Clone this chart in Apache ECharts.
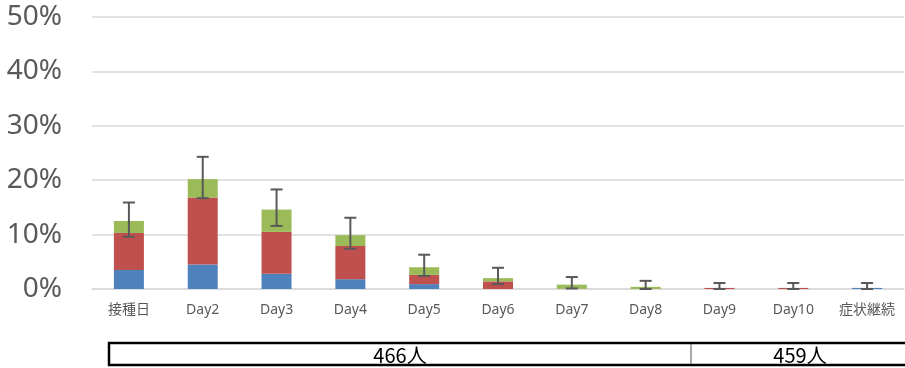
<!DOCTYPE html>
<html><head><meta charset="utf-8">
<script src="https://cdn.jsdelivr.net/npm/echarts@6/dist/echarts.min.js"></script>
<style>html,body{margin:0;padding:0;background:#fff}#c{width:905px;height:368px}</style>
</head><body><div id="c"></div>
<script>
const categories = ['接種日','Day2','Day3','Day4','Day5','Day6','Day7','Day8','Day9','Day10','症状継続'];
const blueValues  = [3.5, 4.5, 2.8, 1.8, 0.9, 0, 0, 0, 0, 0, 0.2];
const redValues   = [6.8, 12.3, 7.7, 6.1, 1.7, 1.4, 0.05, 0, 0.2, 0.2, 0];
const greenValues = [2.2, 3.4, 4.1, 2.0, 1.4, 0.6, 0.75, 0.4, 0, 0, 0];
const errLow  = [9.6, 16.7, 11.6, 7.4, 2.4, 0.9, 0.1, 0, 0, 0, 0];
const errHigh = [15.9, 24.3, 18.3, 13.1, 6.3, 3.9, 2.2, 1.5, 1.1, 1.1, 1.1];
const yTicks = [0, 10, 20, 30, 40, 50];
const groupLabels = ['466人', '459人'];

const chart = echarts.init(document.getElementById('c'), null, {renderer: 'canvas'});
const errData = categories.map((c, i) => [i, errLow[i], errHigh[i]]);
const gridColor = '#D9D9D9';
const textColor = '#595959';

chart.setOption({
  animation: false,
  grid: {left: 92, right: 1, top: 17, bottom: 79},
  xAxis: {
    type: 'category', data: categories,
    axisLine: {show: true, lineStyle: {color: gridColor, width: 1.5}},
    axisTick: {show: false},
    axisLabel: {color: textColor, fontSize: 14, fontFamily: '"Noto Sans", "Noto Sans CJK JP", sans-serif', margin: 14, interval: 0}
  },
  yAxis: {
    type: 'value', min: yTicks[0], max: yTicks[yTicks.length - 1], interval: 10,
    axisLine: {show: false}, axisTick: {show: false},
    splitLine: {lineStyle: {color: gridColor, width: 1.5}},
    axisLabel: {color: textColor, fontSize: 28, fontFamily: '"Noto Sans", sans-serif', margin: 30, formatter: '{value}%'}
  },
  series: [
    {type: 'bar', stack: 's', data: blueValues, barWidth: 30, itemStyle: {color: '#4F81BD'}},
    {type: 'bar', stack: 's', data: redValues, barWidth: 30, itemStyle: {color: '#C0504D'}},
    {type: 'bar', stack: 's', data: greenValues, barWidth: 30, itemStyle: {color: '#9BBB59'}},
    {
      type: 'custom', data: errData, z: 10,
      renderItem: function (params, api) {
        const x = api.value(0);
        const lo = api.coord([x, api.value(1)]);
        const hi = api.coord([x, api.value(2)]);
        const hw = 6;
        const st = {stroke: '#595959', lineWidth: 2};
        return {type: 'group', children: [
          {type: 'line', shape: {x1: lo[0], y1: lo[1], x2: hi[0], y2: hi[1]}, style: st},
          {type: 'line', shape: {x1: lo[0] - hw, y1: lo[1], x2: lo[0] + hw, y2: lo[1]}, style: st},
          {type: 'line', shape: {x1: hi[0] - hw, y1: hi[1], x2: hi[0] + hw, y2: hi[1]}, style: st}
        ]};
      }
    }
  ],
  graphic: [
    {type: 'rect', shape: {x: 109, y: 343, width: 798, height: 22}, style: {fill: '#fff', stroke: '#000', lineWidth: 2.5}},
    {type: 'line', shape: {x1: 691, y1: 344, x2: 691, y2: 364}, style: {stroke: '#555', lineWidth: 1}},
    {type: 'text', x: 400, y: 355, style: {text: groupLabels[0], fill: '#000', fontSize: 20, fontFamily: '"Noto Sans CJK JP", sans-serif', align: 'center', verticalAlign: 'middle'}},
    {type: 'text', x: 800, y: 355, style: {text: groupLabels[1], fill: '#000', fontSize: 20, fontFamily: '"Noto Sans CJK JP", sans-serif', align: 'center', verticalAlign: 'middle'}}
  ]
});
</script></body></html>
